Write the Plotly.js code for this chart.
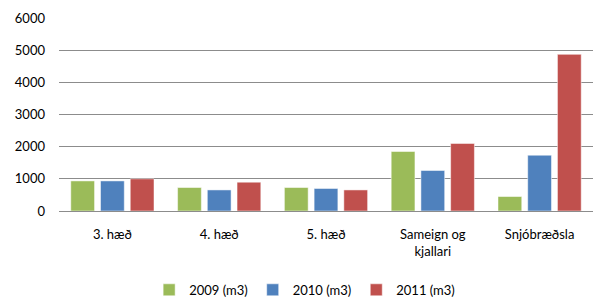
<!DOCTYPE html>
<html>
<head>
<meta charset="utf-8">
<script src="https://cdn.plot.ly/plotly-3.0.1.min.js"></script>
<style>html,body{margin:0;padding:0;background:#fff}#chart{width:594px;height:297px}</style>
</head>
<body>
<div id="chart"></div>
<script>
const categories = ["3. hæð", "4. hæð", "5. hæð", "Sameign og<br>kjallari", "Snjóbræðsla"];
const seriesNames = ["2009 (m3)", "2010 (m3)", "2011 (m3)"];
const values2009 = [935, 730, 730, 1850, 450];
const values2010 = [935, 655, 700, 1260, 1735];
const values2011 = [1000, 895, 655, 2100, 4870];
const colors = ["#9BBB59", "#4F81BD", "#C0504D"];
const yTicks = [0, 1000, 2000, 3000, 4000, 5000, 6000];

// pad single-line labels to two lines so all first lines align at the top
const xTickText = categories.map(c => c.includes("<br>") ? c : c + "<br> ");

const series = [values2009, values2010, values2011];
const data = series.map((vals, i) => ({
  type: "bar",
  name: seriesNames[i],
  x: categories,
  y: vals,
  marker: {color: colors[i], line: {color: "rgba(255,255,255,0.5)", width: 1}},
  hoverinfo: "none"
}));

const layout = {
  width: 594, height: 297,
  margin: {l: 59, r: 1, t: 18, b: 86},
  paper_bgcolor: "#fff", plot_bgcolor: "#fff",
  font: {family: "Lato, 'Open Sans', sans-serif", size: 13, color: "#000"},
  barmode: "group",
  bargap: 0.165,
  bargroupgap: 0.2,
  showlegend: true,
  legend: {orientation: "h", x: 0.46, xanchor: "center", xref: "paper",
           y: 0.024, yanchor: "middle", yref: "container",
           bgcolor: "rgba(0,0,0,0)", font: {size: 13}, itemwidth: 30, traceorder: "normal"},
  xaxis: {
    type: "category", showgrid: false, showline: true, linecolor: "#8c8c8c", linewidth: 1,
    tickvals: categories, ticktext: xTickText,
    ticks: "", ticklabelstandoff: 11, tickfont: {size: 13}, fixedrange: true, automargin: false
  },
  yaxis: {
    range: [0, 6000], tickvals: yTicks, ticktext: yTicks.map(String),
    showgrid: true, gridcolor: "#8c8c8c", gridwidth: 1, zeroline: false,
    showline: false, ticks: "", ticklabelstandoff: 13, tickfont: {size: 13}, fixedrange: true, automargin: false
  }
};
Plotly.newPlot("chart", data, layout, {staticPlot: true, displayModeBar: false});
</script>
</body>
</html>
